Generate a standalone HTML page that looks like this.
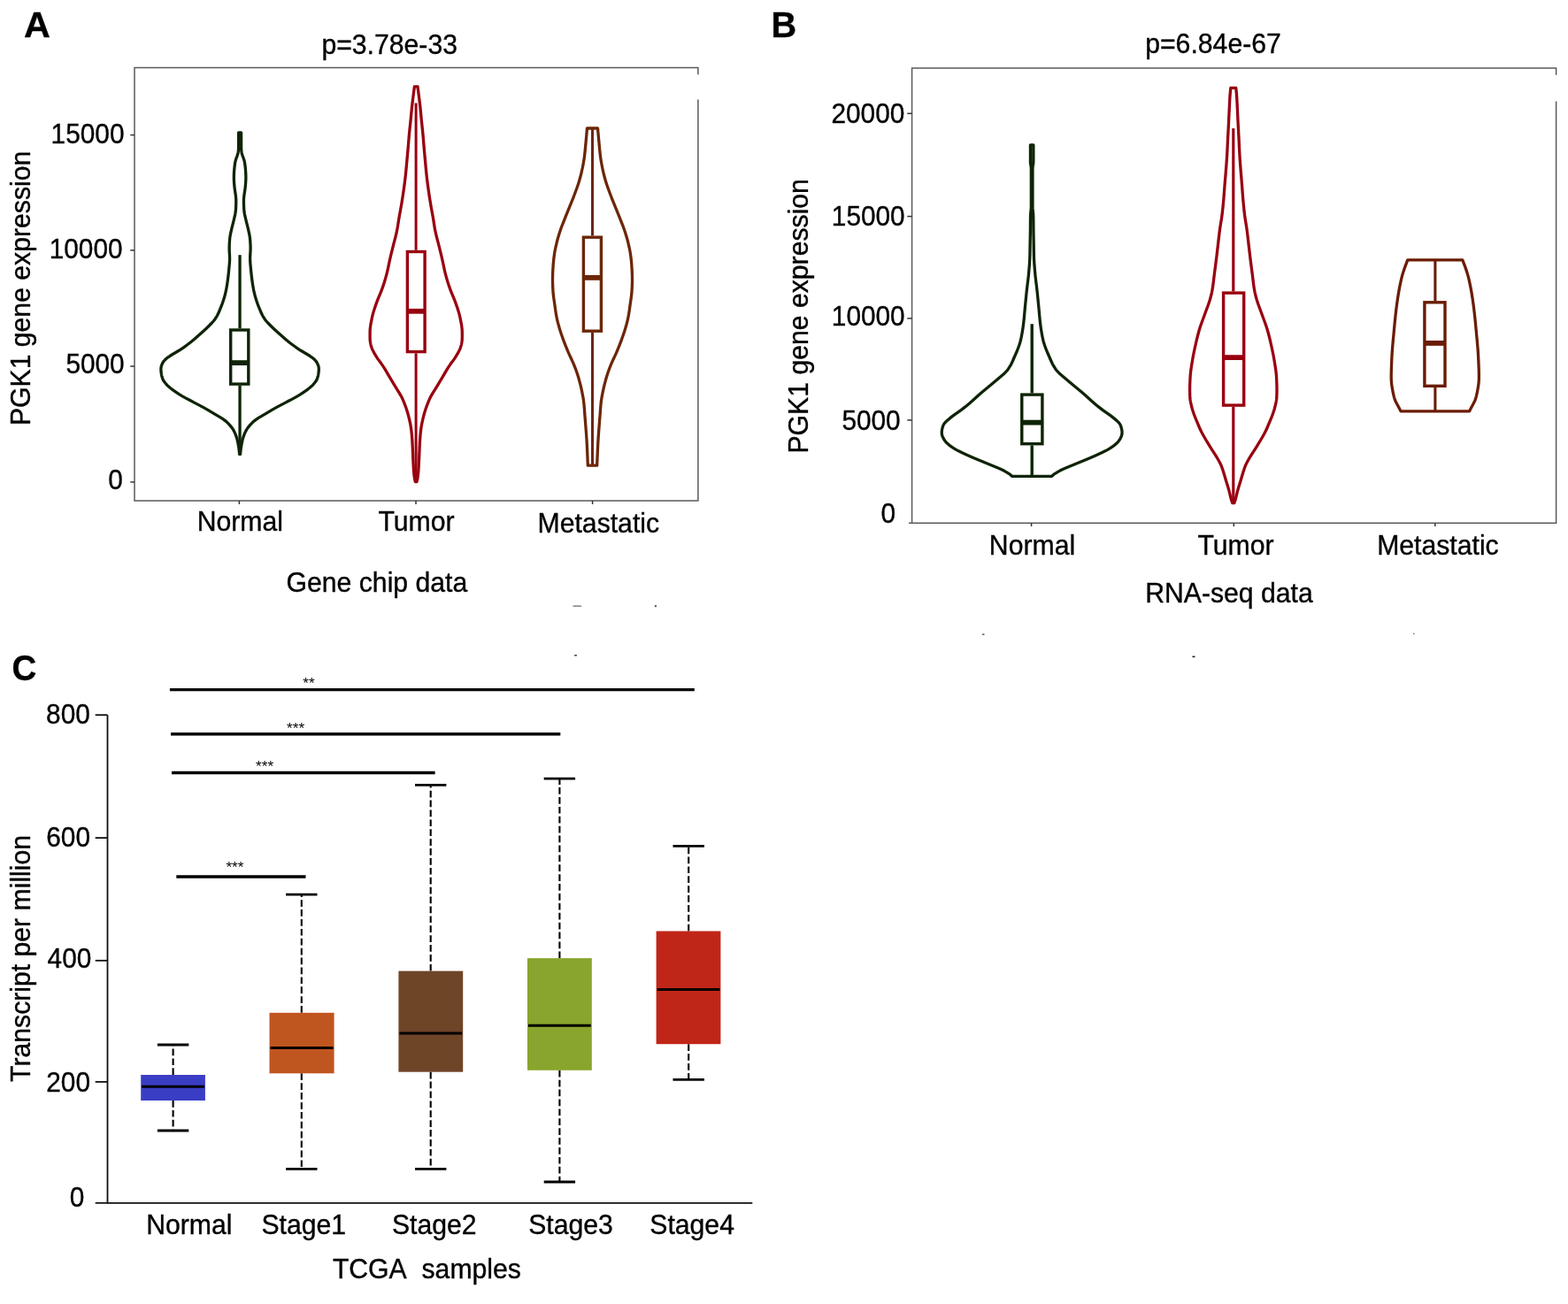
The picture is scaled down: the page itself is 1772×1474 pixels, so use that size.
<!DOCTYPE html>
<html><head><meta charset="utf-8"><title>PGK1 expression figure</title>
<style>
html,body{margin:0;padding:0;background:#fff;}
body{width:1772px;height:1474px;overflow:hidden;}
svg{display:block;}
text{font-family:"Liberation Sans",Arial,Helvetica,sans-serif;fill:#000;stroke:#000;stroke-width:0.35px;}
</style></head>
<body>
<svg width="1772" height="1474" viewBox="0 0 1772 1474">
<rect width="1772" height="1474" fill="#fff"/>
<text transform="translate(27.06 42.25)" font-size="41.3" text-anchor="start" font-weight="bold">A</text>
<text transform="translate(363.4 60.6) scale(1 1.06)" font-size="30.2" text-anchor="start">p=3.78e-33</text>
<path d="M788.9 84.3V76.6H152V566.1H788.9V112.5" fill="none" stroke="#5a5a5a" stroke-width="1.5"/>
<line x1="147.3" y1="152.6" x2="152" y2="152.6" stroke="#333" stroke-width="1.5"/>
<text transform="translate(140.5 162.3) scale(1 1.07)" font-size="29.8" text-anchor="end">15000</text>
<line x1="147.3" y1="282.9" x2="152" y2="282.9" stroke="#333" stroke-width="1.5"/>
<text transform="translate(138.6 291.8) scale(1 1.07)" font-size="29.8" text-anchor="end">10000</text>
<line x1="147.3" y1="414" x2="152" y2="414" stroke="#333" stroke-width="1.5"/>
<text transform="translate(140.7 422.3) scale(1 1.07)" font-size="29.8" text-anchor="end">5000</text>
<line x1="147.3" y1="544.9" x2="152" y2="544.9" stroke="#333" stroke-width="1.5"/>
<text transform="translate(138.9 553.4) scale(1 1.07)" font-size="29.8" text-anchor="end">0</text>
<line x1="270.4" y1="566" x2="270.4" y2="570" stroke="#333" stroke-width="1.5"/>
<line x1="470" y1="566" x2="470" y2="570" stroke="#333" stroke-width="1.5"/>
<line x1="669.6" y1="566" x2="669.6" y2="570" stroke="#333" stroke-width="1.5"/>
<text transform="translate(271.3 600) scale(1 1.03)" font-size="30.2" text-anchor="middle">Normal</text>
<text transform="translate(470.5 600) scale(1 1.03)" font-size="30.2" text-anchor="middle">Tumor</text>
<text transform="translate(676.3 601.8) scale(1 1.03)" font-size="30.2" text-anchor="middle">Metastatic</text>
<text transform="translate(425.9 668.6) scale(1 1.03)" font-size="30.2" text-anchor="middle">Gene chip data</text>
<text transform="translate(33.9 325.9) rotate(-90) scale(1 1.03)" font-size="30.2" text-anchor="middle">PGK1 gene expression</text>
<path d="M269.6 150L272.6 150L272.6 151.5L272.6 153L272.6 154.5L272.6 156.01L272.6 157.51L272.6 159.01L272.6 160.51L272.6 162.01L272.6 163.51L272.6 165.02L272.61 166.52L272.64 168.02L272.73 169.52L272.9 171.02L273.14 172.52L273.48 174.03L273.93 175.53L274.46 177.03L275.02 178.53L275.56 180.03L276.02 181.53L276.38 183.04L276.63 184.54L276.83 186.04L277.02 187.54L277.18 189.04L277.34 190.54L277.48 192.05L277.6 193.55L277.7 195.05L277.78 196.55L277.84 198.05L277.87 199.55L277.88 201.06L277.85 202.56L277.79 204.06L277.7 205.56L277.59 207.06L277.47 208.56L277.34 210.07L277.19 211.57L277.02 213.07L276.82 214.57L276.6 216.07L276.37 217.57L276.14 219.08L275.92 220.58L275.74 222.08L275.58 223.58L275.48 225.08L275.43 226.58L275.42 228.09L275.44 229.59L275.48 231.09L275.54 232.59L275.6 234.09L275.68 235.59L275.78 237.1L275.91 238.6L276.1 240.1L276.36 241.6L276.66 243.1L276.99 244.6L277.34 246.11L277.69 247.61L278.05 249.11L278.41 250.61L278.78 252.11L279.17 253.61L279.56 255.12L279.94 256.62L280.3 258.12L280.64 259.62L280.98 261.12L281.3 262.62L281.62 264.13L281.92 265.63L282.18 267.13L282.4 268.63L282.56 270.13L282.69 271.63L282.79 273.14L282.88 274.64L282.96 276.14L283.02 277.64L283.06 279.14L283.08 280.64L283.06 282.15L283.01 283.65L282.94 285.15L282.84 286.65L282.75 288.15L282.68 289.65L282.63 291.16L282.63 292.66L282.66 294.16L282.73 295.66L282.82 297.16L282.94 298.66L283.08 300.17L283.22 301.67L283.36 303.17L283.51 304.67L283.66 306.17L283.8 307.67L283.96 309.18L284.12 310.68L284.3 312.18L284.48 313.68L284.67 315.18L284.86 316.68L285.07 318.19L285.28 319.69L285.5 321.19L285.74 322.69L285.99 324.19L286.25 325.69L286.53 327.2L286.83 328.7L287.16 330.2L287.51 331.7L287.89 333.2L288.3 334.7L288.73 336.2L289.19 337.71L289.66 339.21L290.14 340.71L290.65 342.21L291.18 343.71L291.74 345.21L292.32 346.72L292.92 348.22L293.54 349.72L294.18 351.22L294.84 352.72L295.53 354.22L296.25 355.73L297.02 357.23L297.88 358.73L298.84 360.23L299.94 361.73L301.18 363.23L302.54 364.74L303.98 366.24L305.45 367.74L306.96 369.24L308.5 370.74L310.09 372.24L311.73 373.75L313.4 375.25L315.08 376.75L316.76 378.25L318.44 379.75L320.13 381.25L321.83 382.76L323.58 384.26L325.38 385.76L327.26 387.26L329.22 388.76L331.25 390.26L333.36 391.77L335.53 393.27L337.75 394.77L340.05 396.27L342.48 397.77L345.02 399.27L347.58 400.78L350.03 402.28L352.24 403.78L354.14 405.28L355.75 406.78L357.08 408.28L358.11 409.79L358.9 411.29L359.53 412.79L359.98 414.29L360.25 415.79L360.32 417.29L360.27 418.8L360.14 420.3L359.96 421.8L359.72 423.3L359.4 424.8L359.02 426.3L358.54 427.81L357.91 429.31L357.04 430.81L355.94 432.31L354.69 433.81L353.32 435.31L351.8 436.82L350.09 438.32L348.16 439.82L346.06 441.32L343.88 442.82L341.65 444.32L339.35 445.83L336.92 447.33L334.34 448.83L331.63 450.33L328.84 451.83L326 453.33L323.13 454.84L320.24 456.34L317.35 457.84L314.5 459.34L311.74 460.84L309.09 462.34L306.52 463.85L304.01 465.35L301.52 466.85L299.02 468.35L296.45 469.85L293.86 471.35L291.4 472.86L289.23 474.36L287.33 475.86L285.63 477.36L284.1 478.86L282.69 480.36L281.39 481.87L280.2 483.37L279.15 484.87L278.25 486.37L277.47 487.87L276.78 489.37L276.15 490.88L275.57 492.38L275.05 493.88L274.58 495.38L274.16 496.88L273.79 498.38L273.47 499.89L273.17 501.39L272.9 502.89L272.65 504.39L272.42 505.89L272.21 507.39L272.03 508.9L271.85 510.4L271.71 511.9L271.6 513.4L270.6 513.4L270.49 511.9L270.35 510.4L270.17 508.9L269.99 507.39L269.78 505.89L269.55 504.39L269.3 502.89L269.03 501.39L268.73 499.89L268.41 498.38L268.04 496.88L267.62 495.38L267.15 493.88L266.63 492.38L266.05 490.88L265.42 489.37L264.73 487.87L263.95 486.37L263.05 484.87L262 483.37L260.81 481.87L259.51 480.36L258.1 478.86L256.57 477.36L254.87 475.86L252.97 474.36L250.8 472.86L248.34 471.35L245.75 469.85L243.18 468.35L240.68 466.85L238.19 465.35L235.68 463.85L233.11 462.34L230.46 460.84L227.7 459.34L224.85 457.84L221.96 456.34L219.07 454.84L216.2 453.33L213.36 451.83L210.57 450.33L207.86 448.83L205.28 447.33L202.85 445.83L200.55 444.32L198.32 442.82L196.14 441.32L194.04 439.82L192.11 438.32L190.4 436.82L188.88 435.31L187.51 433.81L186.26 432.31L185.16 430.81L184.29 429.31L183.66 427.81L183.18 426.3L182.8 424.8L182.48 423.3L182.24 421.8L182.06 420.3L181.93 418.8L181.88 417.29L181.95 415.79L182.22 414.29L182.67 412.79L183.3 411.29L184.09 409.79L185.12 408.28L186.45 406.78L188.06 405.28L189.96 403.78L192.17 402.28L194.62 400.78L197.18 399.27L199.72 397.77L202.15 396.27L204.45 394.77L206.67 393.27L208.84 391.77L210.95 390.26L212.98 388.76L214.94 387.26L216.82 385.76L218.62 384.26L220.37 382.76L222.07 381.25L223.76 379.75L225.44 378.25L227.12 376.75L228.8 375.25L230.47 373.75L232.11 372.24L233.7 370.74L235.24 369.24L236.75 367.74L238.22 366.24L239.66 364.74L241.02 363.23L242.26 361.73L243.36 360.23L244.32 358.73L245.18 357.23L245.95 355.73L246.67 354.22L247.36 352.72L248.02 351.22L248.66 349.72L249.28 348.22L249.88 346.72L250.46 345.21L251.02 343.71L251.55 342.21L252.06 340.71L252.54 339.21L253.01 337.71L253.47 336.2L253.9 334.7L254.31 333.2L254.69 331.7L255.04 330.2L255.37 328.7L255.67 327.2L255.95 325.69L256.21 324.19L256.46 322.69L256.7 321.19L256.92 319.69L257.13 318.19L257.34 316.68L257.53 315.18L257.72 313.68L257.9 312.18L258.08 310.68L258.24 309.18L258.4 307.67L258.54 306.17L258.69 304.67L258.84 303.17L258.98 301.67L259.12 300.17L259.26 298.66L259.38 297.16L259.47 295.66L259.54 294.16L259.57 292.66L259.57 291.16L259.52 289.65L259.45 288.15L259.36 286.65L259.26 285.15L259.19 283.65L259.14 282.15L259.12 280.64L259.14 279.14L259.18 277.64L259.24 276.14L259.32 274.64L259.41 273.14L259.51 271.63L259.64 270.13L259.8 268.63L260.02 267.13L260.28 265.63L260.58 264.13L260.9 262.62L261.22 261.12L261.56 259.62L261.9 258.12L262.26 256.62L262.64 255.12L263.03 253.61L263.42 252.11L263.79 250.61L264.15 249.11L264.51 247.61L264.86 246.11L265.21 244.6L265.54 243.1L265.84 241.6L266.1 240.1L266.29 238.6L266.42 237.1L266.52 235.59L266.6 234.09L266.66 232.59L266.72 231.09L266.76 229.59L266.78 228.09L266.77 226.58L266.72 225.08L266.62 223.58L266.46 222.08L266.28 220.58L266.06 219.08L265.83 217.57L265.6 216.07L265.38 214.57L265.18 213.07L265.01 211.57L264.86 210.07L264.73 208.56L264.61 207.06L264.5 205.56L264.41 204.06L264.35 202.56L264.32 201.06L264.33 199.55L264.36 198.05L264.42 196.55L264.5 195.05L264.6 193.55L264.72 192.05L264.86 190.54L265.02 189.04L265.18 187.54L265.37 186.04L265.57 184.54L265.82 183.04L266.18 181.53L266.64 180.03L267.18 178.53L267.74 177.03L268.27 175.53L268.72 174.03L269.06 172.52L269.3 171.02L269.47 169.52L269.56 168.02L269.59 166.52L269.6 165.02L269.6 163.51L269.6 162.01L269.6 160.51L269.6 159.01L269.6 157.51L269.6 156.01L269.6 154.5L269.6 153L269.6 151.5L269.6 150Z" fill="none" stroke="#0e2406" stroke-width="3.3" stroke-linejoin="round"/>
<line x1="271.05" y1="288.2" x2="271.05" y2="371.3" stroke="#0e2406" stroke-width="3.3"/>
<line x1="271.05" y1="435.8" x2="271.05" y2="512" stroke="#0e2406" stroke-width="3.3"/>
<rect x="260.7" y="373" width="20.1" height="61.1" fill="none" stroke="#0e2406" stroke-width="3.4"/>
<line x1="260.7" y1="410.1" x2="280.8" y2="410.1" stroke="#0e2406" stroke-width="5.8"/>
<path d="M468.4 97.8L472 97.8L472.19 99.3L472.39 100.8L472.58 102.3L472.77 103.8L472.96 105.29L473.15 106.79L473.34 108.29L473.53 109.79L473.72 111.29L473.91 112.79L474.09 114.29L474.28 115.79L474.45 117.29L474.63 118.79L474.8 120.28L474.96 121.78L475.11 123.28L475.26 124.78L475.41 126.28L475.55 127.78L475.69 129.28L475.83 130.78L475.97 132.28L476.11 133.78L476.25 135.27L476.4 136.77L476.55 138.27L476.7 139.77L476.86 141.27L477.02 142.77L477.18 144.27L477.34 145.77L477.49 147.27L477.65 148.77L477.79 150.26L477.94 151.76L478.08 153.26L478.21 154.76L478.34 156.26L478.46 157.76L478.58 159.26L478.71 160.76L478.83 162.26L478.95 163.76L479.07 165.25L479.2 166.75L479.32 168.25L479.45 169.75L479.58 171.25L479.72 172.75L479.85 174.25L479.98 175.75L480.12 177.25L480.25 178.75L480.39 180.24L480.53 181.74L480.67 183.24L480.8 184.74L480.94 186.24L481.08 187.74L481.22 189.24L481.36 190.74L481.5 192.24L481.64 193.74L481.79 195.23L481.94 196.73L482.1 198.23L482.26 199.73L482.43 201.23L482.61 202.73L482.79 204.23L482.98 205.73L483.17 207.23L483.37 208.73L483.57 210.22L483.78 211.72L483.98 213.22L484.19 214.72L484.4 216.22L484.62 217.72L484.84 219.22L485.06 220.72L485.29 222.22L485.52 223.72L485.76 225.21L486 226.71L486.24 228.21L486.49 229.71L486.74 231.21L487 232.71L487.26 234.21L487.53 235.71L487.81 237.21L488.08 238.71L488.36 240.2L488.63 241.7L488.9 243.2L489.17 244.7L489.43 246.2L489.68 247.7L489.92 249.2L490.16 250.7L490.39 252.2L490.62 253.7L490.86 255.19L491.11 256.69L491.36 258.19L491.63 259.69L491.91 261.19L492.22 262.69L492.55 264.19L492.9 265.69L493.27 267.19L493.65 268.69L494.04 270.18L494.44 271.68L494.83 273.18L495.23 274.68L495.61 276.18L495.99 277.68L496.36 279.18L496.74 280.68L497.11 282.18L497.48 283.68L497.85 285.17L498.22 286.67L498.58 288.17L498.94 289.67L499.29 291.17L499.64 292.67L499.98 294.17L500.31 295.67L500.62 297.17L500.93 298.67L501.24 300.16L501.55 301.66L501.87 303.16L502.19 304.66L502.53 306.16L502.88 307.66L503.25 309.16L503.64 310.66L504.05 312.16L504.47 313.66L504.9 315.15L505.35 316.65L505.81 318.15L506.28 319.65L506.77 321.15L507.26 322.65L507.77 324.15L508.28 325.65L508.82 327.15L509.38 328.64L509.97 330.14L510.58 331.64L511.2 333.14L511.84 334.64L512.47 336.14L513.09 337.64L513.69 339.14L514.27 340.64L514.82 342.14L515.35 343.63L515.87 345.13L516.39 346.63L516.9 348.13L517.39 349.63L517.87 351.13L518.33 352.63L518.76 354.13L519.15 355.63L519.52 357.13L519.85 358.62L520.17 360.12L520.47 361.62L520.77 363.12L521.07 364.62L521.34 366.12L521.6 367.62L521.82 369.12L522.01 370.62L522.15 372.12L522.24 373.61L522.28 375.11L522.3 376.61L522.3 378.11L522.3 379.61L522.3 381.11L522.28 382.61L522.22 384.11L522.09 385.61L521.87 387.11L521.57 388.6L521.23 390.1L520.83 391.6L520.35 393.1L519.76 394.6L519.07 396.1L518.29 397.6L517.46 399.1L516.58 400.6L515.69 402.1L514.77 403.59L513.8 405.09L512.77 406.59L511.69 408.09L510.58 409.59L509.48 411.09L508.4 412.59L507.37 414.09L506.39 415.59L505.46 417.09L504.56 418.58L503.67 420.08L502.8 421.58L501.93 423.08L501.05 424.58L500.17 426.08L499.27 427.58L498.38 429.08L497.48 430.58L496.58 432.08L495.68 433.57L494.78 435.07L493.87 436.57L492.96 438.07L492.04 439.57L491.09 441.07L490.15 442.57L489.21 444.07L488.31 445.57L487.45 447.07L486.65 448.56L485.91 450.06L485.22 451.56L484.56 453.06L483.94 454.56L483.34 456.06L482.77 457.56L482.22 459.06L481.69 460.56L481.18 462.06L480.69 463.55L480.22 465.05L479.76 466.55L479.33 468.05L478.91 469.55L478.52 471.05L478.15 472.55L477.79 474.05L477.45 475.55L477.12 477.05L476.81 478.54L476.53 480.04L476.26 481.54L476.02 483.04L475.81 484.54L475.62 486.04L475.44 487.54L475.27 489.04L475.12 490.54L474.97 492.04L474.85 493.53L474.73 495.03L474.63 496.53L474.54 498.03L474.45 499.53L474.38 501.03L474.3 502.53L474.23 504.03L474.16 505.53L474.09 507.03L474.03 508.52L473.96 510.02L473.9 511.52L473.84 513.02L473.77 514.52L473.71 516.02L473.64 517.52L473.58 519.02L473.51 520.52L473.44 522.02L473.37 523.51L473.29 525.01L473.21 526.51L473.12 528.01L473.03 529.51L472.92 531.01L472.81 532.51L472.69 534.01L472.55 535.51L472.39 537.01L472.22 538.5L472.01 540L471.8 541.5L471.45 543L471 544.5L469.4 544.5L468.95 543L468.6 541.5L468.39 540L468.18 538.5L468.01 537.01L467.85 535.51L467.71 534.01L467.59 532.51L467.48 531.01L467.37 529.51L467.28 528.01L467.19 526.51L467.11 525.01L467.03 523.51L466.96 522.02L466.89 520.52L466.82 519.02L466.76 517.52L466.69 516.02L466.63 514.52L466.56 513.02L466.5 511.52L466.44 510.02L466.37 508.52L466.31 507.03L466.24 505.53L466.17 504.03L466.1 502.53L466.02 501.03L465.95 499.53L465.86 498.03L465.77 496.53L465.67 495.03L465.55 493.53L465.43 492.04L465.28 490.54L465.13 489.04L464.96 487.54L464.78 486.04L464.59 484.54L464.38 483.04L464.14 481.54L463.87 480.04L463.59 478.54L463.28 477.05L462.95 475.55L462.61 474.05L462.25 472.55L461.88 471.05L461.49 469.55L461.07 468.05L460.64 466.55L460.18 465.05L459.71 463.55L459.22 462.06L458.71 460.56L458.18 459.06L457.63 457.56L457.06 456.06L456.46 454.56L455.84 453.06L455.18 451.56L454.49 450.06L453.75 448.56L452.95 447.07L452.09 445.57L451.19 444.07L450.25 442.57L449.31 441.07L448.36 439.57L447.44 438.07L446.53 436.57L445.62 435.07L444.72 433.57L443.82 432.08L442.92 430.58L442.02 429.08L441.13 427.58L440.23 426.08L439.35 424.58L438.47 423.08L437.6 421.58L436.73 420.08L435.84 418.58L434.94 417.09L434.01 415.59L433.03 414.09L432 412.59L430.92 411.09L429.82 409.59L428.71 408.09L427.63 406.59L426.6 405.09L425.63 403.59L424.71 402.1L423.82 400.6L422.94 399.1L422.11 397.6L421.33 396.1L420.64 394.6L420.05 393.1L419.57 391.6L419.17 390.1L418.83 388.6L418.53 387.11L418.31 385.61L418.18 384.11L418.12 382.61L418.1 381.11L418.1 379.61L418.1 378.11L418.1 376.61L418.12 375.11L418.16 373.61L418.25 372.12L418.39 370.62L418.58 369.12L418.8 367.62L419.06 366.12L419.33 364.62L419.63 363.12L419.93 361.62L420.23 360.12L420.55 358.62L420.88 357.13L421.25 355.63L421.64 354.13L422.07 352.63L422.53 351.13L423.01 349.63L423.5 348.13L424.01 346.63L424.53 345.13L425.05 343.63L425.58 342.14L426.13 340.64L426.71 339.14L427.31 337.64L427.93 336.14L428.56 334.64L429.2 333.14L429.82 331.64L430.43 330.14L431.02 328.64L431.58 327.15L432.12 325.65L432.63 324.15L433.14 322.65L433.63 321.15L434.12 319.65L434.59 318.15L435.05 316.65L435.5 315.15L435.93 313.66L436.35 312.16L436.76 310.66L437.15 309.16L437.52 307.66L437.87 306.16L438.21 304.66L438.53 303.16L438.85 301.66L439.16 300.16L439.47 298.67L439.78 297.17L440.09 295.67L440.42 294.17L440.76 292.67L441.11 291.17L441.46 289.67L441.82 288.17L442.18 286.67L442.55 285.17L442.92 283.68L443.29 282.18L443.66 280.68L444.04 279.18L444.41 277.68L444.79 276.18L445.17 274.68L445.57 273.18L445.96 271.68L446.36 270.18L446.75 268.69L447.13 267.19L447.5 265.69L447.85 264.19L448.18 262.69L448.49 261.19L448.77 259.69L449.04 258.19L449.29 256.69L449.54 255.19L449.78 253.7L450.01 252.2L450.24 250.7L450.48 249.2L450.72 247.7L450.97 246.2L451.23 244.7L451.5 243.2L451.77 241.7L452.04 240.2L452.32 238.71L452.59 237.21L452.87 235.71L453.14 234.21L453.4 232.71L453.66 231.21L453.91 229.71L454.16 228.21L454.4 226.71L454.64 225.21L454.88 223.72L455.11 222.22L455.34 220.72L455.56 219.22L455.78 217.72L456 216.22L456.21 214.72L456.42 213.22L456.62 211.72L456.83 210.22L457.03 208.73L457.23 207.23L457.42 205.73L457.61 204.23L457.79 202.73L457.97 201.23L458.14 199.73L458.3 198.23L458.46 196.73L458.61 195.23L458.76 193.74L458.9 192.24L459.04 190.74L459.18 189.24L459.32 187.74L459.46 186.24L459.6 184.74L459.73 183.24L459.87 181.74L460.01 180.24L460.15 178.75L460.28 177.25L460.42 175.75L460.55 174.25L460.68 172.75L460.82 171.25L460.95 169.75L461.08 168.25L461.2 166.75L461.33 165.25L461.45 163.76L461.57 162.26L461.69 160.76L461.82 159.26L461.94 157.76L462.06 156.26L462.19 154.76L462.32 153.26L462.46 151.76L462.61 150.26L462.75 148.77L462.91 147.27L463.06 145.77L463.22 144.27L463.38 142.77L463.54 141.27L463.7 139.77L463.85 138.27L464 136.77L464.15 135.27L464.29 133.78L464.43 132.28L464.57 130.78L464.71 129.28L464.85 127.78L464.99 126.28L465.14 124.78L465.29 123.28L465.44 121.78L465.6 120.28L465.77 118.79L465.95 117.29L466.12 115.79L466.31 114.29L466.49 112.79L466.68 111.29L466.87 109.79L467.06 108.29L467.25 106.79L467.44 105.29L467.63 103.8L467.82 102.3L468.01 100.8L468.21 99.3L468.4 97.8Z" fill="none" stroke="#98000f" stroke-width="3.3" stroke-linejoin="round"/>
<line x1="470.1" y1="116.5" x2="470.1" y2="282.8" stroke="#98000f" stroke-width="3"/>
<line x1="470.1" y1="399.3" x2="470.1" y2="543" stroke="#98000f" stroke-width="3"/>
<rect x="460.4" y="284.5" width="19.7" height="113.1" fill="none" stroke="#98000f" stroke-width="3.4"/>
<line x1="460.4" y1="351.8" x2="480.1" y2="351.8" stroke="#98000f" stroke-width="5.8"/>
<path d="M663.5 145L675.5 145L675.63 146.5L675.75 148L675.89 149.5L676.02 151L676.15 152.5L676.28 154L676.42 155.5L676.56 157L676.7 158.5L676.84 160L676.98 161.5L677.12 163L677.26 164.51L677.4 166.01L677.54 167.51L677.68 169.01L677.82 170.51L677.97 172.01L678.13 173.51L678.3 175.01L678.48 176.51L678.68 178.01L678.9 179.51L679.13 181.01L679.38 182.51L679.64 184.01L679.91 185.51L680.19 187.01L680.48 188.51L680.79 190.01L681.1 191.51L681.43 193.01L681.77 194.51L682.13 196.01L682.5 197.51L682.89 199.01L683.29 200.51L683.7 202.01L684.12 203.52L684.56 205.02L685.02 206.52L685.5 208.02L686 209.52L686.52 211.02L687.05 212.52L687.59 214.02L688.14 215.52L688.69 217.02L689.25 218.52L689.82 220.02L690.4 221.52L690.99 223.02L691.59 224.52L692.2 226.02L692.81 227.52L693.43 229.02L694.04 230.52L694.65 232.02L695.25 233.52L695.86 235.02L696.47 236.52L697.08 238.02L697.69 239.52L698.29 241.03L698.9 242.53L699.5 244.03L700.09 245.53L700.69 247.03L701.28 248.53L701.88 250.03L702.47 251.53L703.06 253.03L703.64 254.53L704.21 256.03L704.76 257.53L705.29 259.03L705.8 260.53L706.3 262.03L706.78 263.53L707.26 265.03L707.72 266.53L708.16 268.03L708.59 269.53L709.01 271.03L709.4 272.53L709.78 274.03L710.14 275.53L710.49 277.03L710.83 278.54L711.16 280.04L711.47 281.54L711.77 283.04L712.04 284.54L712.3 286.04L712.52 287.54L712.73 289.04L712.93 290.54L713.11 292.04L713.28 293.54L713.44 295.04L713.59 296.54L713.72 298.04L713.84 299.54L713.94 301.04L714.03 302.54L714.11 304.04L714.19 305.54L714.26 307.04L714.32 308.54L714.38 310.04L714.43 311.54L714.46 313.04L714.48 314.54L714.49 316.04L714.48 317.55L714.46 319.05L714.42 320.55L714.37 322.05L714.31 323.55L714.24 325.05L714.17 326.55L714.09 328.05L714 329.55L713.89 331.05L713.76 332.55L713.59 334.05L713.41 335.55L713.2 337.05L712.99 338.55L712.76 340.05L712.54 341.55L712.32 343.05L712.11 344.55L711.91 346.05L711.7 347.55L711.49 349.05L711.28 350.55L711.06 352.05L710.82 353.55L710.58 355.06L710.32 356.56L710.04 358.06L709.74 359.56L709.41 361.06L709.06 362.56L708.69 364.06L708.31 365.56L707.91 367.06L707.49 368.56L707.07 370.06L706.63 371.56L706.18 373.06L705.71 374.56L705.22 376.06L704.71 377.56L704.19 379.06L703.65 380.56L703.11 382.06L702.55 383.56L702 385.06L701.43 386.56L700.86 388.06L700.28 389.56L699.69 391.06L699.08 392.56L698.47 394.07L697.85 395.57L697.23 397.07L696.59 398.57L695.94 400.07L695.27 401.57L694.58 403.07L693.88 404.57L693.17 406.07L692.46 407.57L691.77 409.07L691.1 410.57L690.46 412.07L689.85 413.57L689.27 415.07L688.7 416.57L688.15 418.07L687.62 419.57L687.1 421.07L686.6 422.57L686.12 424.07L685.65 425.57L685.2 427.07L684.77 428.57L684.35 430.07L683.94 431.58L683.54 433.08L683.15 434.58L682.78 436.08L682.42 437.58L682.08 439.08L681.76 440.58L681.44 442.08L681.14 443.58L680.84 445.08L680.55 446.58L680.27 448.08L680.01 449.58L679.77 451.08L679.54 452.58L679.34 454.08L679.17 455.58L679.02 457.08L678.88 458.58L678.76 460.08L678.64 461.58L678.53 463.08L678.43 464.58L678.32 466.08L678.21 467.58L678.1 469.09L677.98 470.59L677.86 472.09L677.74 473.59L677.62 475.09L677.5 476.59L677.38 478.09L677.26 479.59L677.15 481.09L677.03 482.59L676.92 484.09L676.8 485.59L676.69 487.09L676.57 488.59L676.46 490.09L676.35 491.59L676.25 493.09L676.15 494.59L676.05 496.09L675.96 497.59L675.88 499.09L675.79 500.59L675.71 502.09L675.64 503.59L675.56 505.09L675.49 506.59L675.42 508.1L675.35 509.6L675.29 511.1L675.22 512.6L675.16 514.1L675.1 515.6L675.03 517.1L674.97 518.6L674.92 520.1L674.86 521.6L674.8 523.1L674.75 524.6L674.7 526.1L664.3 526.1L664.25 524.6L664.2 523.1L664.14 521.6L664.08 520.1L664.03 518.6L663.97 517.1L663.9 515.6L663.84 514.1L663.78 512.6L663.71 511.1L663.65 509.6L663.58 508.1L663.51 506.59L663.44 505.09L663.36 503.59L663.29 502.09L663.21 500.59L663.12 499.09L663.04 497.59L662.95 496.09L662.85 494.59L662.75 493.09L662.65 491.59L662.54 490.09L662.43 488.59L662.31 487.09L662.2 485.59L662.08 484.09L661.97 482.59L661.85 481.09L661.74 479.59L661.62 478.09L661.5 476.59L661.38 475.09L661.26 473.59L661.14 472.09L661.02 470.59L660.9 469.09L660.79 467.58L660.68 466.08L660.57 464.58L660.47 463.08L660.36 461.58L660.24 460.08L660.12 458.58L659.98 457.08L659.83 455.58L659.66 454.08L659.46 452.58L659.23 451.08L658.99 449.58L658.73 448.08L658.45 446.58L658.16 445.08L657.86 443.58L657.56 442.08L657.24 440.58L656.92 439.08L656.58 437.58L656.22 436.08L655.85 434.58L655.46 433.08L655.06 431.58L654.65 430.07L654.23 428.57L653.8 427.07L653.35 425.57L652.88 424.07L652.4 422.57L651.9 421.07L651.38 419.57L650.85 418.07L650.3 416.57L649.73 415.07L649.15 413.57L648.54 412.07L647.9 410.57L647.23 409.07L646.54 407.57L645.83 406.07L645.12 404.57L644.42 403.07L643.73 401.57L643.06 400.07L642.41 398.57L641.77 397.07L641.15 395.57L640.53 394.07L639.92 392.56L639.31 391.06L638.72 389.56L638.14 388.06L637.57 386.56L637 385.06L636.45 383.56L635.89 382.06L635.35 380.56L634.81 379.06L634.29 377.56L633.78 376.06L633.29 374.56L632.82 373.06L632.37 371.56L631.93 370.06L631.51 368.56L631.09 367.06L630.69 365.56L630.31 364.06L629.94 362.56L629.59 361.06L629.26 359.56L628.96 358.06L628.68 356.56L628.42 355.06L628.18 353.55L627.94 352.05L627.72 350.55L627.51 349.05L627.3 347.55L627.09 346.05L626.89 344.55L626.68 343.05L626.46 341.55L626.24 340.05L626.01 338.55L625.8 337.05L625.59 335.55L625.41 334.05L625.24 332.55L625.11 331.05L625 329.55L624.91 328.05L624.83 326.55L624.76 325.05L624.69 323.55L624.63 322.05L624.58 320.55L624.54 319.05L624.52 317.55L624.51 316.04L624.52 314.54L624.54 313.04L624.57 311.54L624.62 310.04L624.68 308.54L624.74 307.04L624.81 305.54L624.89 304.04L624.97 302.54L625.06 301.04L625.16 299.54L625.28 298.04L625.41 296.54L625.56 295.04L625.72 293.54L625.89 292.04L626.07 290.54L626.27 289.04L626.48 287.54L626.7 286.04L626.96 284.54L627.23 283.04L627.53 281.54L627.84 280.04L628.17 278.54L628.51 277.03L628.86 275.53L629.22 274.03L629.6 272.53L629.99 271.03L630.41 269.53L630.84 268.03L631.28 266.53L631.74 265.03L632.22 263.53L632.7 262.03L633.2 260.53L633.71 259.03L634.24 257.53L634.79 256.03L635.36 254.53L635.94 253.03L636.53 251.53L637.12 250.03L637.72 248.53L638.31 247.03L638.91 245.53L639.5 244.03L640.1 242.53L640.71 241.03L641.31 239.52L641.92 238.02L642.53 236.52L643.14 235.02L643.75 233.52L644.35 232.02L644.96 230.52L645.57 229.02L646.19 227.52L646.8 226.02L647.41 224.52L648.01 223.02L648.6 221.52L649.18 220.02L649.75 218.52L650.31 217.02L650.86 215.52L651.41 214.02L651.95 212.52L652.48 211.02L653 209.52L653.5 208.02L653.98 206.52L654.44 205.02L654.88 203.52L655.3 202.01L655.71 200.51L656.11 199.01L656.5 197.51L656.87 196.01L657.23 194.51L657.57 193.01L657.9 191.51L658.21 190.01L658.52 188.51L658.81 187.01L659.09 185.51L659.36 184.01L659.62 182.51L659.87 181.01L660.1 179.51L660.32 178.01L660.52 176.51L660.7 175.01L660.87 173.51L661.03 172.01L661.18 170.51L661.32 169.01L661.46 167.51L661.6 166.01L661.74 164.51L661.88 163L662.02 161.5L662.16 160L662.3 158.5L662.44 157L662.58 155.5L662.72 154L662.85 152.5L662.98 151L663.11 149.5L663.25 148L663.37 146.5L663.5 145Z" fill="none" stroke="#6c2607" stroke-width="3.3" stroke-linejoin="round"/>
<line x1="669.5" y1="145" x2="669.5" y2="266.5" stroke="#6c2607" stroke-width="3"/>
<line x1="669.5" y1="375.9" x2="669.5" y2="526" stroke="#6c2607" stroke-width="3"/>
<rect x="659.4" y="268.2" width="20" height="106" fill="none" stroke="#6c2607" stroke-width="3.4"/>
<line x1="659.4" y1="313.9" x2="679.4" y2="313.9" stroke="#6c2607" stroke-width="5.8"/>
<text transform="translate(871.4 42.25) scale(0.96 1)" font-size="41.3" text-anchor="start" font-weight="bold">B</text>
<text transform="translate(1294.2 60.3) scale(1 1.06)" font-size="30.2" text-anchor="start">p=6.84e-67</text>
<path d="M1758.6 84.7V76.9H1030.6V591.2H1758.6V114.6" fill="none" stroke="#5a5a5a" stroke-width="1.5"/>
<line x1="1027" y1="591.2" x2="1031" y2="591.2" stroke="#5a5a5a" stroke-width="1.5"/>
<line x1="1025.3" y1="128.3" x2="1030.6" y2="128.3" stroke="#333" stroke-width="1.5"/>
<text transform="translate(1022.3 138.7) scale(1 1.07)" font-size="29.8" text-anchor="end">20000</text>
<line x1="1025.3" y1="244.6" x2="1030.6" y2="244.6" stroke="#333" stroke-width="1.5"/>
<text transform="translate(1022.7 254.8) scale(1 1.07)" font-size="29.8" text-anchor="end">15000</text>
<line x1="1025.3" y1="359.9" x2="1030.6" y2="359.9" stroke="#333" stroke-width="1.5"/>
<text transform="translate(1022.7 368.3) scale(1 1.07)" font-size="29.8" text-anchor="end">10000</text>
<line x1="1025.3" y1="474.9" x2="1030.6" y2="474.9" stroke="#333" stroke-width="1.5"/>
<text transform="translate(1017.7 485.7) scale(1 1.07)" font-size="29.8" text-anchor="end">5000</text>
<text transform="translate(1012.1 591) scale(1 1.07)" font-size="29.8" text-anchor="end">0</text>
<line x1="1165.6" y1="591.2" x2="1165.6" y2="595" stroke="#333" stroke-width="1.5"/>
<line x1="1394.3" y1="591.2" x2="1394.3" y2="595" stroke="#333" stroke-width="1.5"/>
<line x1="1621.8" y1="591.2" x2="1621.8" y2="595" stroke="#333" stroke-width="1.5"/>
<text transform="translate(1166.5 626.7) scale(1 1.03)" font-size="30.2" text-anchor="middle">Normal</text>
<text transform="translate(1396.5 626.7) scale(1 1.03)" font-size="30.2" text-anchor="middle">Tumor</text>
<text transform="translate(1624.9 626.7) scale(1 1.03)" font-size="30.2" text-anchor="middle">Metastatic</text>
<text transform="translate(1389 680.7) scale(1 1.03)" font-size="30.2" text-anchor="middle">RNA-seq data</text>
<text transform="translate(913.4 357.3) rotate(-90) scale(1 1.03)" font-size="30.2" text-anchor="middle">PGK1 gene expression</text>
<path d="M1164.45 163.8L1167.85 163.8L1167.85 165.3L1167.85 166.8L1167.85 168.29L1167.85 169.79L1167.85 171.29L1167.85 172.79L1167.85 174.29L1167.85 175.78L1167.85 177.28L1167.85 178.78L1167.85 180.28L1167.85 181.78L1167.82 183.27L1167.72 184.77L1167.49 186.27L1167.22 187.77L1167.03 189.27L1166.97 190.76L1166.95 192.26L1166.95 193.76L1166.95 195.26L1166.95 196.76L1166.95 198.25L1166.95 199.75L1166.95 201.25L1166.95 202.75L1166.95 204.25L1166.95 205.74L1166.95 207.24L1166.95 208.74L1166.95 210.24L1166.95 211.74L1166.95 213.23L1166.95 214.73L1166.95 216.23L1166.95 217.73L1166.95 219.23L1166.95 220.72L1166.95 222.22L1166.95 223.72L1166.95 225.22L1166.95 226.72L1166.95 228.21L1166.95 229.71L1166.95 231.21L1166.96 232.71L1166.98 234.21L1167.05 235.7L1167.17 237.2L1167.32 238.7L1167.48 240.2L1167.62 241.7L1167.71 243.19L1167.76 244.69L1167.79 246.19L1167.81 247.69L1167.83 249.19L1167.84 250.68L1167.86 252.18L1167.87 253.68L1167.88 255.18L1167.89 256.68L1167.9 258.17L1167.91 259.67L1167.93 261.17L1167.95 262.67L1167.97 264.17L1168 265.66L1168.03 267.16L1168.06 268.66L1168.09 270.16L1168.12 271.66L1168.15 273.15L1168.18 274.65L1168.2 276.15L1168.23 277.65L1168.25 279.15L1168.27 280.64L1168.29 282.14L1168.32 283.64L1168.34 285.14L1168.37 286.64L1168.41 288.13L1168.44 289.63L1168.49 291.13L1168.55 292.63L1168.62 294.13L1168.71 295.62L1168.8 297.12L1168.9 298.62L1169.01 300.12L1169.13 301.62L1169.25 303.11L1169.37 304.61L1169.5 306.11L1169.63 307.61L1169.76 309.11L1169.9 310.6L1170.05 312.1L1170.22 313.6L1170.39 315.1L1170.57 316.6L1170.75 318.09L1170.94 319.59L1171.13 321.09L1171.31 322.59L1171.5 324.09L1171.67 325.58L1171.84 327.08L1172.01 328.58L1172.17 330.08L1172.33 331.58L1172.48 333.07L1172.63 334.57L1172.78 336.07L1172.93 337.57L1173.08 339.07L1173.22 340.56L1173.37 342.06L1173.52 343.56L1173.66 345.06L1173.81 346.56L1173.95 348.05L1174.09 349.55L1174.22 351.05L1174.36 352.55L1174.49 354.05L1174.62 355.54L1174.75 357.04L1174.89 358.54L1175.03 360.04L1175.17 361.54L1175.33 363.03L1175.49 364.53L1175.66 366.03L1175.85 367.53L1176.05 369.03L1176.26 370.52L1176.49 372.02L1176.73 373.52L1176.97 375.02L1177.23 376.52L1177.5 378.01L1177.77 379.51L1178.07 381.01L1178.39 382.51L1178.73 384.01L1179.1 385.5L1179.51 387L1179.97 388.5L1180.45 390L1180.97 391.5L1181.5 392.99L1182.06 394.49L1182.65 395.99L1183.27 397.49L1183.92 398.99L1184.58 400.48L1185.25 401.98L1185.91 403.48L1186.55 404.98L1187.19 406.48L1187.84 407.97L1188.53 409.47L1189.26 410.97L1190.04 412.47L1190.88 413.97L1191.78 415.46L1192.77 416.96L1193.89 418.46L1195.16 419.96L1196.63 421.46L1198.27 422.95L1200.01 424.45L1201.79 425.95L1203.56 427.45L1205.32 428.95L1207.09 430.44L1208.87 431.94L1210.67 433.44L1212.47 434.94L1214.28 436.44L1216.09 437.93L1217.91 439.43L1219.73 440.93L1221.54 442.43L1223.32 443.93L1225.06 445.42L1226.75 446.92L1228.41 448.42L1230.04 449.92L1231.67 451.42L1233.33 452.91L1235.03 454.41L1236.76 455.91L1238.51 457.41L1240.3 458.91L1242.13 460.4L1244.02 461.9L1245.98 463.4L1248.06 464.9L1250.21 466.4L1252.38 467.89L1254.49 469.39L1256.48 470.89L1258.36 472.39L1260.19 473.89L1261.95 475.38L1263.55 476.88L1264.88 478.38L1265.88 479.88L1266.56 481.38L1267.05 482.87L1267.45 484.37L1267.76 485.87L1267.96 487.37L1268.05 488.87L1267.95 490.36L1267.66 491.86L1267.15 493.36L1266.48 494.86L1265.68 496.36L1264.76 497.85L1263.64 499.35L1262.23 500.85L1260.53 502.35L1258.59 503.85L1256.46 505.34L1254.18 506.84L1251.7 508.34L1248.96 509.84L1245.98 511.34L1242.83 512.83L1239.57 514.33L1236.23 515.83L1232.81 517.33L1229.27 518.83L1225.64 520.32L1221.98 521.82L1218.33 523.32L1214.7 524.82L1211.05 526.32L1207.38 527.81L1203.77 529.31L1200.38 530.81L1197.32 532.31L1194.69 533.81L1192.25 535.3L1190.34 536.8L1188.75 538.3L1143.55 538.3L1141.96 536.8L1140.05 535.3L1137.61 533.81L1134.98 532.31L1131.92 530.81L1128.53 529.31L1124.92 527.81L1121.25 526.32L1117.6 524.82L1113.97 523.32L1110.32 521.82L1106.66 520.32L1103.03 518.83L1099.49 517.33L1096.07 515.83L1092.73 514.33L1089.47 512.83L1086.32 511.34L1083.34 509.84L1080.6 508.34L1078.12 506.84L1075.84 505.34L1073.71 503.85L1071.77 502.35L1070.07 500.85L1068.66 499.35L1067.54 497.85L1066.62 496.36L1065.82 494.86L1065.15 493.36L1064.64 491.86L1064.35 490.36L1064.25 488.87L1064.34 487.37L1064.54 485.87L1064.85 484.37L1065.25 482.87L1065.74 481.38L1066.42 479.88L1067.42 478.38L1068.75 476.88L1070.35 475.38L1072.11 473.89L1073.94 472.39L1075.82 470.89L1077.81 469.39L1079.92 467.89L1082.09 466.4L1084.24 464.9L1086.32 463.4L1088.28 461.9L1090.17 460.4L1092 458.91L1093.79 457.41L1095.54 455.91L1097.27 454.41L1098.97 452.91L1100.63 451.42L1102.26 449.92L1103.89 448.42L1105.55 446.92L1107.24 445.42L1108.98 443.93L1110.76 442.43L1112.57 440.93L1114.39 439.43L1116.21 437.93L1118.02 436.44L1119.83 434.94L1121.63 433.44L1123.43 431.94L1125.21 430.44L1126.98 428.95L1128.74 427.45L1130.51 425.95L1132.29 424.45L1134.03 422.95L1135.67 421.46L1137.14 419.96L1138.41 418.46L1139.53 416.96L1140.52 415.46L1141.42 413.97L1142.26 412.47L1143.04 410.97L1143.77 409.47L1144.46 407.97L1145.11 406.48L1145.75 404.98L1146.39 403.48L1147.05 401.98L1147.72 400.48L1148.38 398.99L1149.03 397.49L1149.65 395.99L1150.24 394.49L1150.8 392.99L1151.33 391.5L1151.85 390L1152.33 388.5L1152.79 387L1153.2 385.5L1153.57 384.01L1153.91 382.51L1154.23 381.01L1154.53 379.51L1154.8 378.01L1155.07 376.52L1155.33 375.02L1155.57 373.52L1155.81 372.02L1156.04 370.52L1156.25 369.03L1156.45 367.53L1156.64 366.03L1156.81 364.53L1156.97 363.03L1157.13 361.54L1157.27 360.04L1157.41 358.54L1157.55 357.04L1157.68 355.54L1157.81 354.05L1157.94 352.55L1158.08 351.05L1158.21 349.55L1158.35 348.05L1158.49 346.56L1158.64 345.06L1158.78 343.56L1158.93 342.06L1159.08 340.56L1159.22 339.07L1159.37 337.57L1159.52 336.07L1159.67 334.57L1159.82 333.07L1159.97 331.58L1160.13 330.08L1160.29 328.58L1160.46 327.08L1160.63 325.58L1160.8 324.09L1160.99 322.59L1161.17 321.09L1161.36 319.59L1161.55 318.09L1161.73 316.6L1161.91 315.1L1162.08 313.6L1162.25 312.1L1162.4 310.6L1162.54 309.11L1162.67 307.61L1162.8 306.11L1162.93 304.61L1163.05 303.11L1163.17 301.62L1163.29 300.12L1163.4 298.62L1163.5 297.12L1163.59 295.62L1163.68 294.13L1163.75 292.63L1163.81 291.13L1163.86 289.63L1163.89 288.13L1163.93 286.64L1163.96 285.14L1163.98 283.64L1164.01 282.14L1164.03 280.64L1164.05 279.15L1164.07 277.65L1164.1 276.15L1164.12 274.65L1164.15 273.15L1164.18 271.66L1164.21 270.16L1164.24 268.66L1164.27 267.16L1164.3 265.66L1164.33 264.17L1164.35 262.67L1164.37 261.17L1164.39 259.67L1164.4 258.17L1164.41 256.68L1164.42 255.18L1164.43 253.68L1164.44 252.18L1164.46 250.68L1164.47 249.19L1164.49 247.69L1164.51 246.19L1164.54 244.69L1164.59 243.19L1164.68 241.7L1164.82 240.2L1164.98 238.7L1165.13 237.2L1165.25 235.7L1165.32 234.21L1165.34 232.71L1165.35 231.21L1165.35 229.71L1165.35 228.21L1165.35 226.72L1165.35 225.22L1165.35 223.72L1165.35 222.22L1165.35 220.72L1165.35 219.23L1165.35 217.73L1165.35 216.23L1165.35 214.73L1165.35 213.23L1165.35 211.74L1165.35 210.24L1165.35 208.74L1165.35 207.24L1165.35 205.74L1165.35 204.25L1165.35 202.75L1165.35 201.25L1165.35 199.75L1165.35 198.25L1165.35 196.76L1165.35 195.26L1165.35 193.76L1165.35 192.26L1165.33 190.76L1165.27 189.27L1165.08 187.77L1164.81 186.27L1164.58 184.77L1164.48 183.27L1164.45 181.78L1164.45 180.28L1164.45 178.78L1164.45 177.28L1164.45 175.78L1164.45 174.29L1164.45 172.79L1164.45 171.29L1164.45 169.79L1164.45 168.29L1164.45 166.8L1164.45 165.3L1164.45 163.8Z" fill="none" stroke="#0e2406" stroke-width="3.3" stroke-linejoin="round"/>
<line x1="1166.2" y1="366.2" x2="1166.2" y2="444.4" stroke="#0e2406" stroke-width="3.4"/>
<line x1="1166.2" y1="503.4" x2="1166.2" y2="538" stroke="#0e2406" stroke-width="3.4"/>
<rect x="1154.8" y="446.1" width="23.1" height="55.6" fill="none" stroke="#0e2406" stroke-width="3.4"/>
<line x1="1154.8" y1="477.6" x2="1177.9" y2="477.6" stroke="#0e2406" stroke-width="5.8"/>
<path d="M1390.9 99.3L1396.7 99.3L1396.88 100.8L1397.05 102.3L1397.2 103.8L1397.35 105.3L1397.48 106.8L1397.59 108.3L1397.68 109.8L1397.78 111.3L1397.86 112.8L1397.94 114.3L1398.01 115.8L1398.09 117.3L1398.16 118.8L1398.23 120.3L1398.3 121.8L1398.37 123.29L1398.44 124.79L1398.52 126.29L1398.59 127.79L1398.66 129.29L1398.73 130.79L1398.8 132.29L1398.87 133.79L1398.94 135.29L1399.01 136.79L1399.08 138.29L1399.15 139.79L1399.23 141.29L1399.3 142.79L1399.38 144.29L1399.46 145.79L1399.54 147.29L1399.62 148.79L1399.7 150.29L1399.78 151.79L1399.87 153.29L1399.94 154.79L1400.02 156.29L1400.1 157.79L1400.17 159.29L1400.24 160.79L1400.31 162.29L1400.38 163.79L1400.44 165.29L1400.51 166.79L1400.58 168.29L1400.65 169.78L1400.72 171.28L1400.8 172.78L1400.88 174.28L1400.97 175.78L1401.06 177.28L1401.15 178.78L1401.25 180.28L1401.36 181.78L1401.47 183.28L1401.58 184.78L1401.69 186.28L1401.8 187.78L1401.92 189.28L1402.03 190.78L1402.15 192.28L1402.26 193.78L1402.39 195.28L1402.51 196.78L1402.63 198.28L1402.76 199.78L1402.89 201.28L1403.02 202.78L1403.14 204.28L1403.27 205.78L1403.39 207.28L1403.51 208.78L1403.63 210.28L1403.74 211.78L1403.85 213.28L1403.96 214.78L1404.07 216.28L1404.18 217.77L1404.3 219.27L1404.41 220.77L1404.53 222.27L1404.65 223.77L1404.77 225.27L1404.9 226.77L1405.04 228.27L1405.17 229.77L1405.31 231.27L1405.45 232.77L1405.6 234.27L1405.75 235.77L1405.91 237.27L1406.07 238.77L1406.24 240.27L1406.42 241.77L1406.61 243.27L1406.81 244.77L1407.02 246.27L1407.25 247.77L1407.49 249.27L1407.74 250.77L1407.98 252.27L1408.23 253.77L1408.47 255.27L1408.7 256.77L1408.92 258.27L1409.13 259.77L1409.33 261.27L1409.52 262.77L1409.7 264.26L1409.88 265.76L1410.05 267.26L1410.22 268.76L1410.4 270.26L1410.57 271.76L1410.74 273.26L1410.91 274.76L1411.08 276.26L1411.26 277.76L1411.43 279.26L1411.61 280.76L1411.78 282.26L1411.96 283.76L1412.13 285.26L1412.31 286.76L1412.48 288.26L1412.66 289.76L1412.84 291.26L1413.02 292.76L1413.21 294.26L1413.4 295.76L1413.59 297.26L1413.78 298.76L1413.98 300.26L1414.18 301.76L1414.37 303.26L1414.57 304.76L1414.77 306.26L1414.97 307.76L1415.16 309.26L1415.35 310.75L1415.54 312.25L1415.72 313.75L1415.9 315.25L1416.07 316.75L1416.25 318.25L1416.43 319.75L1416.62 321.25L1416.82 322.75L1417.03 324.25L1417.26 325.75L1417.51 327.25L1417.78 328.75L1418.08 330.25L1418.42 331.75L1418.77 333.25L1419.15 334.75L1419.54 336.25L1419.96 337.75L1420.39 339.25L1420.86 340.75L1421.35 342.25L1421.87 343.75L1422.4 345.25L1422.95 346.75L1423.5 348.25L1424.06 349.75L1424.62 351.25L1425.17 352.75L1425.72 354.25L1426.26 355.75L1426.8 357.25L1427.35 358.74L1427.9 360.24L1428.46 361.74L1429.01 363.24L1429.56 364.74L1430.1 366.24L1430.63 367.74L1431.14 369.24L1431.63 370.74L1432.09 372.24L1432.53 373.74L1432.96 375.24L1433.37 376.74L1433.76 378.24L1434.15 379.74L1434.53 381.24L1434.89 382.74L1435.25 384.24L1435.6 385.74L1435.94 387.24L1436.28 388.74L1436.62 390.24L1436.95 391.74L1437.28 393.24L1437.6 394.74L1437.93 396.24L1438.24 397.74L1438.55 399.24L1438.85 400.74L1439.14 402.24L1439.43 403.74L1439.7 405.23L1439.95 406.73L1440.2 408.23L1440.44 409.73L1440.69 411.23L1440.92 412.73L1441.16 414.23L1441.39 415.73L1441.6 417.23L1441.81 418.73L1441.99 420.23L1442.16 421.73L1442.3 423.23L1442.42 424.73L1442.52 426.23L1442.6 427.73L1442.68 429.23L1442.75 430.73L1442.81 432.23L1442.87 433.73L1442.92 435.23L1442.96 436.73L1442.98 438.23L1442.99 439.73L1442.99 441.23L1442.98 442.73L1442.95 444.23L1442.92 445.73L1442.87 447.23L1442.81 448.73L1442.72 450.23L1442.56 451.72L1442.34 453.22L1442.05 454.72L1441.73 456.22L1441.39 457.72L1441.03 459.22L1440.65 460.72L1440.24 462.22L1439.79 463.72L1439.31 465.22L1438.8 466.72L1438.29 468.22L1437.75 469.72L1437.18 471.22L1436.59 472.72L1435.98 474.22L1435.36 475.72L1434.73 477.22L1434.1 478.72L1433.46 480.22L1432.82 481.72L1432.17 483.22L1431.5 484.72L1430.8 486.22L1430.07 487.72L1429.3 489.22L1428.49 490.72L1427.66 492.22L1426.8 493.72L1425.94 495.22L1425.06 496.72L1424.19 498.22L1423.31 499.71L1422.42 501.21L1421.51 502.71L1420.6 504.21L1419.68 505.71L1418.74 507.21L1417.78 508.71L1416.8 510.21L1415.82 511.71L1414.85 513.21L1413.91 514.71L1412.98 516.21L1412.07 517.71L1411.17 519.21L1410.29 520.71L1409.46 522.21L1408.68 523.71L1407.97 525.21L1407.33 526.71L1406.76 528.21L1406.22 529.71L1405.72 531.21L1405.23 532.71L1404.75 534.21L1404.29 535.71L1403.83 537.21L1403.38 538.71L1402.95 540.21L1402.51 541.71L1402.08 543.21L1401.63 544.71L1401.17 546.2L1400.7 547.7L1400.23 549.2L1399.77 550.7L1399.32 552.2L1398.9 553.7L1398.51 555.2L1398.14 556.7L1397.79 558.2L1397.44 559.7L1397.08 561.2L1396.7 562.7L1396.27 564.2L1395.83 565.7L1395.33 567.2L1394.8 568.7L1392.8 568.7L1392.27 567.2L1391.77 565.7L1391.33 564.2L1390.9 562.7L1390.52 561.2L1390.16 559.7L1389.81 558.2L1389.46 556.7L1389.09 555.2L1388.7 553.7L1388.28 552.2L1387.83 550.7L1387.37 549.2L1386.9 547.7L1386.43 546.2L1385.97 544.71L1385.52 543.21L1385.09 541.71L1384.65 540.21L1384.22 538.71L1383.77 537.21L1383.31 535.71L1382.85 534.21L1382.37 532.71L1381.88 531.21L1381.38 529.71L1380.84 528.21L1380.27 526.71L1379.63 525.21L1378.92 523.71L1378.14 522.21L1377.31 520.71L1376.43 519.21L1375.53 517.71L1374.62 516.21L1373.69 514.71L1372.75 513.21L1371.78 511.71L1370.8 510.21L1369.82 508.71L1368.86 507.21L1367.92 505.71L1367 504.21L1366.09 502.71L1365.18 501.21L1364.29 499.71L1363.41 498.22L1362.54 496.72L1361.66 495.22L1360.8 493.72L1359.94 492.22L1359.11 490.72L1358.3 489.22L1357.53 487.72L1356.8 486.22L1356.1 484.72L1355.43 483.22L1354.78 481.72L1354.14 480.22L1353.5 478.72L1352.87 477.22L1352.24 475.72L1351.62 474.22L1351.01 472.72L1350.42 471.22L1349.85 469.72L1349.31 468.22L1348.8 466.72L1348.29 465.22L1347.81 463.72L1347.36 462.22L1346.95 460.72L1346.57 459.22L1346.21 457.72L1345.87 456.22L1345.55 454.72L1345.26 453.22L1345.04 451.72L1344.88 450.23L1344.79 448.73L1344.73 447.23L1344.68 445.73L1344.65 444.23L1344.62 442.73L1344.61 441.23L1344.61 439.73L1344.62 438.23L1344.64 436.73L1344.68 435.23L1344.73 433.73L1344.79 432.23L1344.85 430.73L1344.92 429.23L1345 427.73L1345.08 426.23L1345.18 424.73L1345.3 423.23L1345.44 421.73L1345.61 420.23L1345.79 418.73L1346 417.23L1346.21 415.73L1346.44 414.23L1346.68 412.73L1346.91 411.23L1347.16 409.73L1347.4 408.23L1347.65 406.73L1347.9 405.23L1348.17 403.74L1348.46 402.24L1348.75 400.74L1349.05 399.24L1349.36 397.74L1349.67 396.24L1350 394.74L1350.32 393.24L1350.65 391.74L1350.98 390.24L1351.32 388.74L1351.66 387.24L1352 385.74L1352.35 384.24L1352.71 382.74L1353.07 381.24L1353.45 379.74L1353.84 378.24L1354.23 376.74L1354.64 375.24L1355.07 373.74L1355.51 372.24L1355.97 370.74L1356.46 369.24L1356.97 367.74L1357.5 366.24L1358.04 364.74L1358.59 363.24L1359.14 361.74L1359.7 360.24L1360.25 358.74L1360.8 357.25L1361.34 355.75L1361.88 354.25L1362.43 352.75L1362.98 351.25L1363.54 349.75L1364.1 348.25L1364.65 346.75L1365.2 345.25L1365.73 343.75L1366.25 342.25L1366.74 340.75L1367.21 339.25L1367.64 337.75L1368.06 336.25L1368.45 334.75L1368.83 333.25L1369.18 331.75L1369.52 330.25L1369.82 328.75L1370.09 327.25L1370.34 325.75L1370.57 324.25L1370.78 322.75L1370.98 321.25L1371.17 319.75L1371.35 318.25L1371.53 316.75L1371.7 315.25L1371.88 313.75L1372.06 312.25L1372.25 310.75L1372.44 309.26L1372.63 307.76L1372.83 306.26L1373.03 304.76L1373.23 303.26L1373.42 301.76L1373.62 300.26L1373.82 298.76L1374.01 297.26L1374.2 295.76L1374.39 294.26L1374.58 292.76L1374.76 291.26L1374.94 289.76L1375.12 288.26L1375.29 286.76L1375.47 285.26L1375.64 283.76L1375.82 282.26L1375.99 280.76L1376.17 279.26L1376.34 277.76L1376.52 276.26L1376.69 274.76L1376.86 273.26L1377.03 271.76L1377.2 270.26L1377.38 268.76L1377.55 267.26L1377.72 265.76L1377.9 264.26L1378.08 262.77L1378.27 261.27L1378.47 259.77L1378.68 258.27L1378.9 256.77L1379.13 255.27L1379.37 253.77L1379.62 252.27L1379.86 250.77L1380.11 249.27L1380.35 247.77L1380.58 246.27L1380.79 244.77L1380.99 243.27L1381.18 241.77L1381.36 240.27L1381.53 238.77L1381.69 237.27L1381.85 235.77L1382 234.27L1382.15 232.77L1382.29 231.27L1382.43 229.77L1382.56 228.27L1382.7 226.77L1382.83 225.27L1382.95 223.77L1383.07 222.27L1383.19 220.77L1383.3 219.27L1383.42 217.77L1383.53 216.28L1383.64 214.78L1383.75 213.28L1383.86 211.78L1383.97 210.28L1384.09 208.78L1384.21 207.28L1384.33 205.78L1384.46 204.28L1384.58 202.78L1384.71 201.28L1384.84 199.78L1384.97 198.28L1385.09 196.78L1385.21 195.28L1385.34 193.78L1385.45 192.28L1385.57 190.78L1385.68 189.28L1385.8 187.78L1385.91 186.28L1386.02 184.78L1386.13 183.28L1386.24 181.78L1386.35 180.28L1386.45 178.78L1386.54 177.28L1386.63 175.78L1386.72 174.28L1386.8 172.78L1386.88 171.28L1386.95 169.78L1387.02 168.29L1387.09 166.79L1387.16 165.29L1387.22 163.79L1387.29 162.29L1387.36 160.79L1387.43 159.29L1387.5 157.79L1387.58 156.29L1387.66 154.79L1387.73 153.29L1387.82 151.79L1387.9 150.29L1387.98 148.79L1388.06 147.29L1388.14 145.79L1388.22 144.29L1388.3 142.79L1388.37 141.29L1388.45 139.79L1388.52 138.29L1388.59 136.79L1388.66 135.29L1388.73 133.79L1388.8 132.29L1388.87 130.79L1388.94 129.29L1389.01 127.79L1389.08 126.29L1389.16 124.79L1389.23 123.29L1389.3 121.8L1389.37 120.3L1389.44 118.8L1389.51 117.3L1389.59 115.8L1389.66 114.3L1389.74 112.8L1389.82 111.3L1389.92 109.8L1390.01 108.3L1390.12 106.8L1390.25 105.3L1390.4 103.8L1390.55 102.3L1390.72 100.8L1390.9 99.3Z" fill="none" stroke="#98000f" stroke-width="3.3" stroke-linejoin="round"/>
<line x1="1393.8" y1="145.1" x2="1393.8" y2="329.4" stroke="#98000f" stroke-width="3.2"/>
<line x1="1393.8" y1="459.8" x2="1393.8" y2="568" stroke="#98000f" stroke-width="3.2"/>
<rect x="1382.6" y="331.1" width="23.1" height="127" fill="none" stroke="#98000f" stroke-width="3.4"/>
<line x1="1382.6" y1="404.1" x2="1405.7" y2="404.1" stroke="#98000f" stroke-width="5.8"/>
<path d="M1590.8 293.9L1652.8 293.9L1653.4 295.4L1653.98 296.9L1654.55 298.4L1655.12 299.9L1655.67 301.4L1656.21 302.89L1656.73 304.39L1657.24 305.89L1657.72 307.39L1658.18 308.89L1658.63 310.39L1659.05 311.89L1659.44 313.39L1659.81 314.89L1660.16 316.39L1660.5 317.89L1660.83 319.39L1661.15 320.88L1661.45 322.38L1661.75 323.88L1662.04 325.38L1662.32 326.88L1662.6 328.38L1662.86 329.88L1663.12 331.38L1663.37 332.88L1663.61 334.38L1663.84 335.88L1664.07 337.37L1664.3 338.87L1664.51 340.37L1664.72 341.87L1664.93 343.37L1665.13 344.87L1665.33 346.37L1665.52 347.87L1665.71 349.37L1665.89 350.87L1666.06 352.37L1666.24 353.86L1666.4 355.36L1666.57 356.86L1666.73 358.36L1666.89 359.86L1667.04 361.36L1667.19 362.86L1667.34 364.36L1667.49 365.86L1667.63 367.36L1667.77 368.86L1667.92 370.36L1668.06 371.85L1668.19 373.35L1668.33 374.85L1668.47 376.35L1668.61 377.85L1668.75 379.35L1668.89 380.85L1669.04 382.35L1669.18 383.85L1669.31 385.35L1669.45 386.85L1669.58 388.34L1669.71 389.84L1669.84 391.34L1669.96 392.84L1670.08 394.34L1670.19 395.84L1670.3 397.34L1670.4 398.84L1670.49 400.34L1670.57 401.84L1670.65 403.34L1670.72 404.84L1670.79 406.33L1670.86 407.83L1670.92 409.33L1670.99 410.83L1671.05 412.33L1671.11 413.83L1671.16 415.33L1671.22 416.83L1671.26 418.33L1671.3 419.83L1671.34 421.33L1671.36 422.82L1671.38 424.32L1671.39 425.82L1671.38 427.32L1671.34 428.82L1671.26 430.32L1671.15 431.82L1671.01 433.32L1670.84 434.82L1670.64 436.32L1670.41 437.82L1670.16 439.31L1669.88 440.81L1669.59 442.31L1669.28 443.81L1668.96 445.31L1668.62 446.81L1668.26 448.31L1667.86 449.81L1667.37 451.31L1666.79 452.81L1666.11 454.31L1665.37 455.81L1664.58 457.3L1663.77 458.8L1662.96 460.3L1662.16 461.8L1661.39 463.3L1660.6 464.8L1583 464.8L1582.21 463.3L1581.44 461.8L1580.64 460.3L1579.83 458.8L1579.02 457.3L1578.23 455.81L1577.49 454.31L1576.81 452.81L1576.23 451.31L1575.74 449.81L1575.34 448.31L1574.98 446.81L1574.64 445.31L1574.32 443.81L1574.01 442.31L1573.72 440.81L1573.44 439.31L1573.19 437.82L1572.96 436.32L1572.76 434.82L1572.59 433.32L1572.45 431.82L1572.34 430.32L1572.26 428.82L1572.22 427.32L1572.21 425.82L1572.22 424.32L1572.24 422.82L1572.26 421.33L1572.3 419.83L1572.34 418.33L1572.38 416.83L1572.44 415.33L1572.49 413.83L1572.55 412.33L1572.61 410.83L1572.68 409.33L1572.74 407.83L1572.81 406.33L1572.88 404.84L1572.95 403.34L1573.03 401.84L1573.11 400.34L1573.2 398.84L1573.3 397.34L1573.41 395.84L1573.52 394.34L1573.64 392.84L1573.76 391.34L1573.89 389.84L1574.02 388.34L1574.15 386.85L1574.29 385.35L1574.42 383.85L1574.56 382.35L1574.71 380.85L1574.85 379.35L1574.99 377.85L1575.13 376.35L1575.27 374.85L1575.41 373.35L1575.54 371.85L1575.68 370.36L1575.83 368.86L1575.97 367.36L1576.11 365.86L1576.26 364.36L1576.41 362.86L1576.56 361.36L1576.71 359.86L1576.87 358.36L1577.03 356.86L1577.2 355.36L1577.36 353.86L1577.54 352.37L1577.71 350.87L1577.89 349.37L1578.08 347.87L1578.27 346.37L1578.47 344.87L1578.67 343.37L1578.88 341.87L1579.09 340.37L1579.3 338.87L1579.53 337.37L1579.76 335.88L1579.99 334.38L1580.23 332.88L1580.48 331.38L1580.74 329.88L1581 328.38L1581.28 326.88L1581.56 325.38L1581.85 323.88L1582.15 322.38L1582.45 320.88L1582.77 319.39L1583.1 317.89L1583.44 316.39L1583.79 314.89L1584.16 313.39L1584.55 311.89L1584.97 310.39L1585.42 308.89L1585.88 307.39L1586.36 305.89L1586.87 304.39L1587.39 302.89L1587.93 301.4L1588.48 299.9L1589.05 298.4L1589.62 296.9L1590.2 295.4L1590.8 293.9Z" fill="none" stroke="#6a1c05" stroke-width="3.3" stroke-linejoin="round"/>
<line x1="1621.9" y1="293.9" x2="1621.9" y2="340.1" stroke="#6a1c05" stroke-width="3.1"/>
<line x1="1621.9" y1="438" x2="1621.9" y2="464.8" stroke="#6a1c05" stroke-width="3.1"/>
<rect x="1609.9" y="341.8" width="23.1" height="94.5" fill="none" stroke="#6a1c05" stroke-width="3.4"/>
<line x1="1609.9" y1="387.9" x2="1633" y2="387.9" stroke="#6a1c05" stroke-width="5.8"/>
<text transform="translate(13.6 769.2) scale(0.93 1)" font-size="41.4" text-anchor="start" font-weight="bold">C</text>
<line x1="191.9" y1="779.6" x2="784.8" y2="779.6" stroke="#000" stroke-width="3.4"/>
<text transform="translate(342.2 777.7) scale(1 0.95)" font-size="17.2" text-anchor="start" style="stroke:none">**</text>
<line x1="193" y1="829.8" x2="633.3" y2="829.8" stroke="#000" stroke-width="3.4"/>
<text transform="translate(324 828.5) scale(1 0.95)" font-size="17.2" text-anchor="start" style="stroke:none">***</text>
<line x1="194" y1="873.5" x2="491.6" y2="873.5" stroke="#000" stroke-width="3.4"/>
<text transform="translate(289.1 871.9) scale(1 0.95)" font-size="17.2" text-anchor="start" style="stroke:none">***</text>
<line x1="199.3" y1="991" x2="345.5" y2="991" stroke="#000" stroke-width="3.4"/>
<text transform="translate(255.4 986.3) scale(1 0.95)" font-size="17.2" text-anchor="start" style="stroke:none">***</text>
<path d="M121.5 808.2V1359.8H850.3" fill="none" stroke="#111" stroke-width="1.8"/>
<line x1="107.7" y1="808.2" x2="121.5" y2="808.2" stroke="#111" stroke-width="1.8"/>
<text transform="translate(101.8 817.5) scale(1 1.07)" font-size="29.8" text-anchor="end">800</text>
<line x1="107.7" y1="947.1" x2="121.5" y2="947.1" stroke="#111" stroke-width="1.8"/>
<text transform="translate(102 957) scale(1 1.07)" font-size="29.8" text-anchor="end">600</text>
<line x1="107.7" y1="1085.8" x2="121.5" y2="1085.8" stroke="#111" stroke-width="1.8"/>
<text transform="translate(103.3 1094.4) scale(1 1.07)" font-size="29.8" text-anchor="end">400</text>
<line x1="107.7" y1="1222.9" x2="121.5" y2="1222.9" stroke="#111" stroke-width="1.8"/>
<text transform="translate(102 1233.5) scale(1 1.07)" font-size="29.8" text-anchor="end">200</text>
<line x1="107.7" y1="1359.8" x2="121.5" y2="1359.8" stroke="#111" stroke-width="1.8"/>
<text transform="translate(95.4 1364.2) scale(1 1.07)" font-size="29.8" text-anchor="end">0</text>
<text transform="translate(33.8 1083.4) rotate(-90) scale(1 1.03)" font-size="30.2" text-anchor="middle">Transcript per million</text>
<line x1="195.6" y1="1215" x2="195.6" y2="1181" stroke="#000" stroke-width="2.1" stroke-dasharray="7.7 3.2"/>
<line x1="195.6" y1="1244" x2="195.6" y2="1278" stroke="#000" stroke-width="2.1" stroke-dasharray="7.7 3.2"/>
<line x1="177.9" y1="1181" x2="213.3" y2="1181" stroke="#000" stroke-width="2.8"/>
<line x1="177.9" y1="1278" x2="213.3" y2="1278" stroke="#000" stroke-width="2.8"/>
<rect x="159.2" y="1215" width="72.7" height="29" fill="#3a3ec4"/>
<line x1="160.2" y1="1228.3" x2="230.9" y2="1228.3" stroke="#000" stroke-width="3"/>
<line x1="340.8" y1="1144.8" x2="340.8" y2="1011.2" stroke="#000" stroke-width="2.1" stroke-dasharray="7.7 3.2"/>
<line x1="340.8" y1="1213.3" x2="340.8" y2="1321.4" stroke="#000" stroke-width="2.1" stroke-dasharray="7.7 3.2"/>
<line x1="323.1" y1="1011.2" x2="358.5" y2="1011.2" stroke="#000" stroke-width="2.8"/>
<line x1="323.1" y1="1321.4" x2="358.5" y2="1321.4" stroke="#000" stroke-width="2.8"/>
<rect x="304.5" y="1144.8" width="73.1" height="68.5" fill="#c0561f"/>
<line x1="305.5" y1="1184.6" x2="376.6" y2="1184.6" stroke="#000" stroke-width="3"/>
<line x1="486.7" y1="1097.6" x2="486.7" y2="887.4" stroke="#000" stroke-width="2.1" stroke-dasharray="7.7 3.2"/>
<line x1="486.7" y1="1211.7" x2="486.7" y2="1321.4" stroke="#000" stroke-width="2.1" stroke-dasharray="7.7 3.2"/>
<line x1="469" y1="887.4" x2="504.4" y2="887.4" stroke="#000" stroke-width="2.8"/>
<line x1="469" y1="1321.4" x2="504.4" y2="1321.4" stroke="#000" stroke-width="2.8"/>
<rect x="450.4" y="1097.6" width="72.8" height="114.1" fill="#6e4527"/>
<line x1="451.4" y1="1168" x2="522.2" y2="1168" stroke="#000" stroke-width="3"/>
<line x1="632.4" y1="1083.1" x2="632.4" y2="880.1" stroke="#000" stroke-width="2.1" stroke-dasharray="7.7 3.2"/>
<line x1="632.4" y1="1209.8" x2="632.4" y2="1336" stroke="#000" stroke-width="2.1" stroke-dasharray="7.7 3.2"/>
<line x1="614.7" y1="880.1" x2="650.1" y2="880.1" stroke="#000" stroke-width="2.8"/>
<line x1="614.7" y1="1336" x2="650.1" y2="1336" stroke="#000" stroke-width="2.8"/>
<rect x="596" y="1083.1" width="72.8" height="126.7" fill="#89a52d"/>
<line x1="597" y1="1159.3" x2="667.8" y2="1159.3" stroke="#000" stroke-width="3"/>
<line x1="778.2" y1="1052.5" x2="778.2" y2="956.3" stroke="#000" stroke-width="2.1" stroke-dasharray="7.7 3.2"/>
<line x1="778.2" y1="1180.2" x2="778.2" y2="1220.4" stroke="#000" stroke-width="2.1" stroke-dasharray="7.7 3.2"/>
<line x1="760.5" y1="956.3" x2="795.9" y2="956.3" stroke="#000" stroke-width="2.8"/>
<line x1="760.5" y1="1220.4" x2="795.9" y2="1220.4" stroke="#000" stroke-width="2.8"/>
<rect x="741.6" y="1052.5" width="72.8" height="127.7" fill="#c02617"/>
<line x1="742.6" y1="1118.6" x2="813.4" y2="1118.6" stroke="#000" stroke-width="3"/>
<text transform="translate(213.8 1395.2) scale(1 1.03)" font-size="30.2" text-anchor="middle">Normal</text>
<text transform="translate(343.3 1395.2) scale(1 1.03)" font-size="30.2" text-anchor="middle">Stage1</text>
<text transform="translate(490.8 1395.2) scale(1 1.03)" font-size="30.2" text-anchor="middle">Stage2</text>
<text transform="translate(645 1395.2) scale(1 1.03)" font-size="30.2" text-anchor="middle">Stage3</text>
<text transform="translate(782.1 1395.2) scale(1 1.03)" font-size="30.2" text-anchor="middle">Stage4</text>
<text transform="translate(482.4 1444.7) scale(1 1.03)" font-size="30.2" text-anchor="middle">TCGA&#160; samples</text>
<rect x="647.5" y="684.3" width="9.5" height="1.6" fill="#888"/>
<rect x="739.8" y="684" width="2.2" height="2.2" fill="#666"/>
<rect x="649" y="740" width="3" height="1.6" fill="#555"/>
<rect x="1110" y="716.2" width="2.5" height="1.8" fill="#777"/>
<rect x="1347.5" y="741.5" width="3" height="1.6" fill="#222"/>
<rect x="1597" y="715.6" width="1.5" height="1.5" fill="#777"/>
</svg>
</body></html>
